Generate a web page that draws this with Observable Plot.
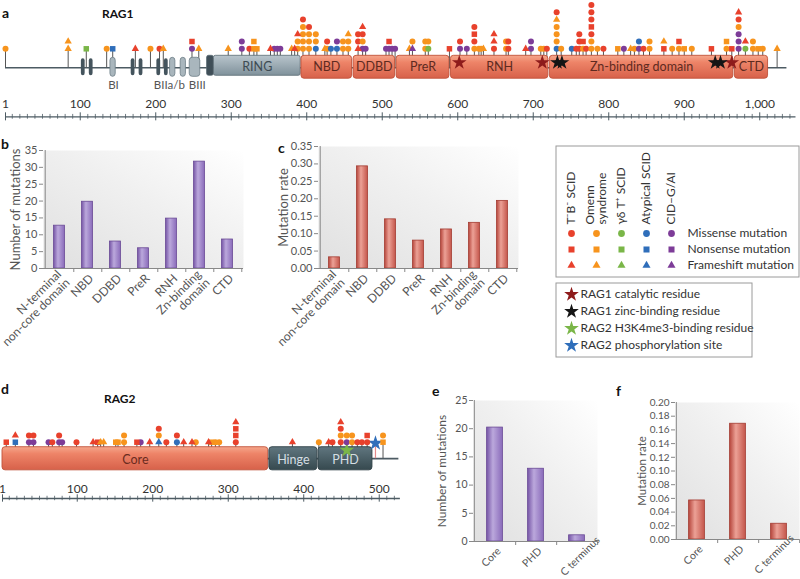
<!DOCTYPE html>
<html><head><meta charset="utf-8">
<script src="https://cdn.jsdelivr.net/npm/d3@7"></script>
<script src="https://cdn.jsdelivr.net/npm/@observablehq/plot@0.6"></script>
<style>
body{margin:0;background:#fff;font-family:Lato,"Open Sans",sans-serif;}
#root{position:relative;width:800px;height:579px;overflow:hidden;background:#fff;}
#root svg.plot-part{position:absolute;}
.lbl{position:absolute;font-weight:bold;line-height:1;color:#111;white-space:nowrap;}
</style></head><body>
<div id="root">
<svg width="0" height="0" style="position:absolute">
<defs>
<linearGradient id="salmon" x1="0" y1="0" x2="0" y2="1"><stop offset="0" stop-color="#f5a78c"/><stop offset="0.3" stop-color="#ee8468"/><stop offset="1" stop-color="#d7614a"/></linearGradient>
<linearGradient id="ring" x1="0" y1="0" x2="0" y2="1"><stop offset="0" stop-color="#b9c5cc"/><stop offset="1" stop-color="#7f919b"/></linearGradient>
<linearGradient id="slate" x1="0" y1="0" x2="0" y2="1"><stop offset="0" stop-color="#60767f"/><stop offset="1" stop-color="#36494f"/></linearGradient>
<linearGradient id="bggrad" x1="0" y1="1" x2="1" y2="0"><stop offset="0" stop-color="#e0e0e0"/><stop offset="0.55" stop-color="#f0f0f0"/><stop offset="1" stop-color="#ffffff"/></linearGradient>
<linearGradient id="purpleBar" x1="0" y1="0" x2="1" y2="0"><stop offset="0" stop-color="#7655a6"/><stop offset="0.4" stop-color="#bba8dc"/><stop offset="1" stop-color="#8a6bba"/></linearGradient>
<linearGradient id="redBar" x1="0" y1="0" x2="1" y2="0"><stop offset="0" stop-color="#b6463c"/><stop offset="0.4" stop-color="#eca196"/><stop offset="1" stop-color="#c4564b"/></linearGradient>
</defs></svg>
</div>
<script>
// ---------------- DATA ----------------
const diseases = ["T⁻B⁻ SCID", "Omenn\nsyndrome", "γδ T⁺ SCID", "Atypical SCID", "CID–G/AI"];
const diseaseColors = ["#e8412c", "#f7941d", "#7ab648", "#2f6eba", "#7d3c98"];
const mutTypes = ["Missense mutation", "Nonsense mutation", "Frameshift mutation"];
const mutSymbols = ["circle", "square", "triangle"];
const residueLabels = ["RAG1 catalytic residue", "RAG1 zinc-binding residue", "RAG2 H3K4me3-binding residue", "RAG2 phosphorylation site"];
const residueColors = ["#8e1b1b", "#151515", "#7ab648", "#2f6eba"];

// RAG1 mutations: position (aa) and stacked codes (bottom->top): colour r/o/g/b/p + shape c/s/t
const rag1Pos = [1,84,108,135,143,173,193,205,210,248,257,296,314,324,330,334,352,357,361,365,380,384,388,395,403,412,424,427,432,440,448,455,468,474,478,505,509,513,517,536,540,557,561,589,603,612,622,628,631,634,648,664,667,690,697,710,714,718,731,737,751,757,761,766,770,777,785,793,812,820,829,834,840,846,854,873,884,893,900,910,936,956,963,972,981,991,998,1004,1023];
const rag1Muts = ["oc","ot ot","gs","oc","bs","rt","oc","rc","ot","pc rs",
"ot","ot","pc pc","rc","os os","os","rt","pc","pc","pc",
"ot","rt","oc oc rt","oc oc oc oc rc","oc oc oc rc","bc oc oc","ot","oc rc","bc","bc pc",
"oc oc","oc oc ot","rt rc rc","pc oc rc rt","pc","pc","pc rs","pc","pc","ot",
"pt oc","oc oc","gc oc","rs","pc rc","pc","oc rc rs rc","oc","oc","ot",
"rc rt rt","oc oc","rc rc","rt","pc pc","oc","oc","rc","bc oc oc oc ot rc","oc",
"bc","rc","rc rc rc","oc rs","rc","oc oc rc rs rc rc rc","oc","rc","os","pc",
"ot","oc","pc bc","rc","oc oc","rs ot","oc","oc rs","os","oc",
"rs","oc os","rs","pc pc pc oc rc rt","gc rt","oc oc","os","oc","ot"];
const rag1DomNames = ["NBD","DDBD","PreR","RNH","Zn-binding domain","CTD"];
const rag1DomStart = [393,462,519,591,722,967];
const rag1DomEnd   = [460,517,589,720,965,1011];
const rag1RingStart = [268,277];
const rag1RingEnd   = [277,392];
const rag1DarkMotifStart = [101.5,112,167.5,178,201.5,211.5];
const rag1DarkMotifEnd   = [106.5,117,172.5,183,206.5,216.5];
const rag1LightMotifStart = [140,219,233,245];
const rag1LightMotifEnd   = [147,226,240,259];
const rag1MotifNames = ["BI","BIIa/b","BIII"];
const rag1MotifPos = [144,218,255];
const rag1Catalytic = [602,712,963];
const rag1ZincBinding = [732,738,941,948];
const rag1TickVals = [1,100,200,300,400,500,600,700,800,900,1000];
const rag1TickLabels = ["1","100","200","300","400","500","600","700","800","900","1,000"];

// RAG2
const rag2Pos = [6,18,36,42,62,67,76,80,99,121,127,131,135,151,154,162,179,184,196,208,218,232,241,252,257,274,278,283,288,310,385,420,433,438,449,457,464,471,477,484,505];
const rag2Muts = ["rs","bs rt","pc rc","pc rc","pc","rc","pc rc","pc","rc","rt",
"rs","ot","ot","os","os","oc oc","rs","pc","rt","bt oc rc",
"rc","bc rc","rt","rt","oc","rt","os","oc","oc","rc rs rs rt",
"rt","oc","rt","rc","rc oc rc rt","pc oc","oc oc","rc","rc","rc rs",
"os oc"];
const rag2DomNames = ["Core","Hinge","PHD"];
const rag2DomStart = [1,354.5,419.5];
const rag2DomEnd   = [353,418,491];
const rag2H3K4me3 = [457];
const rag2Phospho = [495];
const rag2TickVals = [1,100,200,300,400,500];
const rag2TickLabels = ["1","100","200","300","400","500"];

// Bar charts
const rag1Domains = ["N-terminal\nnon-core domain","NBD","DDBD","PreR","RNH","Zn-binding\ndomain","CTD"];
const rag1MutCounts = [12.7,19.8,8,6,14.8,31.7,8.6];
const rag1MutRates = [0.032,0.293,0.141,0.080,0.112,0.131,0.194];
const rag2Regions = ["Core","PHD","C terminus"];
const rag2MutCounts = [20.2,12.9,1.1];
const rag2MutRates = [0.057,0.169,0.023];

// ---------------- HELPERS ----------------
const FONT = "Lato, 'Open Sans', sans-serif";
const COLOR_OF = {r: diseaseColors[0], o: diseaseColors[1], g: diseaseColors[2], b: diseaseColors[3], p: diseaseColors[4]};
const SHAPE_OF = {c: "circle", s: "square", t: "triangle"};
const AX = "#4d5b63";
const root = document.getElementById("root");

function place(svg, left, top) {
  svg.classList.add("plot-part");
  svg.style.left = left + "px";
  svg.style.top = top + "px";
  svg.style.maxWidth = "none";
  root.appendChild(svg);
}
function label(text, left, top, size) {
  const d = document.createElement("div");
  d.className = "lbl";
  d.textContent = text;
  d.style.left = left + "px"; d.style.top = top + "px"; d.style.fontSize = size + "px";
  root.appendChild(d);
}
function stackMuts(pos, codes) {
  const out = [];
  pos.forEach((p, i) => codes[i].split(" ").forEach((c, k) =>
    out.push({pos: p, row: k, color: COLOR_OF[c[0]], shape: SHAPE_OF[c[1]]})));
  return out;
}
function symbolMarks(flat) {
  return [
    Plot.dot(flat.filter(d => d.shape === "circle"), {x: "pos", y: "row", fill: "color", symbol: "circle", r: 3}),
    Plot.dot(flat.filter(d => d.shape === "square"), {x: "pos", y: "row", fill: "color", symbol: "square", r: 3.1}),
    Plot.dot(flat.filter(d => d.shape === "triangle"), {x: "pos", y: "row", fill: "color", symbol: "triangle", r: 2.7})
  ];
}
function rulerMarks(L, lo, hi, tickVals, tickLabels) {
  const minor = d3.range(10, hi, 10).filter(v => v % 100 !== 0);
  return [
    Plot.ruleY([L.axis], {x1: lo, x2: hi, stroke: AX, strokeWidth: 1.3}),
    Plot.ruleX(minor, {x: d => d, y1: L.axis - L.minT, y2: L.axis + L.minT, stroke: AX, strokeWidth: 0.8}),
    Plot.ruleX(tickVals, {x: d => d, y1: L.axis - L.majT, y2: L.axis + L.majT, stroke: AX, strokeWidth: 1}),
    Plot.text(tickVals, {x: d => d, y: L.tickLbl, text: (d, i) => tickLabels[i], fontSize: 12, fill: "#333"})
  ];
}

// ---------------- PANEL a : RAG1 ----------------
{
  const L = {backbone: -2.6, boxTop: -0.96, boxBot: -4.1, ringTop: -0.96, ringBot: -3.7,
             darkTop: -1.37, darkBot: -3.7, lightTop: -1.23, lightBot: -3.84, motifLbl: -4.95,
             domLbl: -2.5, star: -1.88, tickLbl: -7.55, axis: -9.32, majT: 0.55, minT: 0.33};
  const flat = stackMuts(rag1Pos, rag1Muts);
  const doms = rag1DomNames.map((n, i) => ({name: n, start: rag1DomStart[i], end: rag1DomEnd[i]}));
  const ring = rag1RingStart.map((s, i) => ({start: s, end: rag1RingEnd[i], cap: i === 0}));
  const dark = rag1DarkMotifStart.map((s, i) => ({start: s, end: rag1DarkMotifEnd[i]}));
  const light = rag1LightMotifStart.map((s, i) => ({start: s, end: rag1LightMotifEnd[i]}));
  const svg = Plot.plot({
    width: 800, height: 125, margin: 0,
    style: {fontFamily: FONT, background: "transparent", overflow: "visible"},
    x: {domain: [1, 1043], range: [5, 5 + 1042 * 0.755], axis: null},
    y: {domain: [0, 1], range: [48.3, 41.0], axis: null},
    marks: [
      ...rulerMarks(L, 1, 1048, rag1TickVals, rag1TickLabels),
      Plot.ruleY([L.backbone], {x1: 1, x2: 1036, stroke: AX, strokeWidth: 1.6}),
      Plot.ruleX(rag1Pos, {x: d => d, y1: L.backbone, y2: 0, stroke: "#555", strokeWidth: 1}),
      Plot.rect(dark, {x1: "start", x2: "end", y1: L.darkBot, y2: L.darkTop, fill: "#44545d", rx: 2.2}),
      Plot.rect(light, {x1: "start", x2: "end", y1: L.lightBot, y2: L.lightTop, fill: "#a9b6bd", stroke: "#6d7d86", strokeWidth: 0.8, rx: 3}),
      Plot.rect(ring, {x1: "start", x2: "end", y1: L.ringBot, y2: L.ringTop, fill: d => d.cap ? "#3f4e57" : "url(#ring)", stroke: "#5b6b74", strokeWidth: 0.8, rx: 2}),
      Plot.text(["RING"], {x: (rag1RingStart[1] + rag1RingEnd[1]) / 2, y: L.domLbl, text: d => d, fontSize: 12.5, fill: "#3d4b53"}),
      Plot.text(rag1MotifNames, {x: (d, i) => rag1MotifPos[i], y: L.motifLbl, text: d => d, fontSize: 11.5, fill: "#555"}),
      Plot.rect(doms, {x1: "start", x2: "end", y1: L.boxBot, y2: L.boxTop, fill: "url(#salmon)", stroke: "#c1523a", strokeWidth: 0.9, rx: 3}),
      Plot.text(doms, {x: d => (d.start + d.end) / 2, y: L.domLbl, text: "name", fontSize: 12.5, fill: "#5e2a1f"}),
      Plot.dot(rag1Catalytic, {x: d => d, y: L.star, symbol: "star", r: 4.6, fill: residueColors[0]}),
      Plot.dot(rag1ZincBinding, {x: d => d, y: L.star, symbol: "star", r: 4.6, fill: residueColors[1]}),
      ...symbolMarks(flat)
    ]
  });
  place(svg, 0, 0);
}

// ---------------- PANEL d : RAG2 ----------------
{
  const L = {backbone: -2.45, boxTop: -0.75, boxBot: -4.2, domLbl: -2.6, green: -1.2, blue: -0.15,
             tickLbl: -7.0, axis: -8.4, majT: 0.55, minT: 0.33};
  const flat = stackMuts(rag2Pos, rag2Muts);
  const doms = rag2DomNames.map((n, i) => ({name: n, start: rag2DomStart[i], end: rag2DomEnd[i], core: i === 0}));
  const svg = Plot.plot({
    width: 420, height: 130, margin: 0,
    style: {fontFamily: FONT, background: "transparent", overflow: "visible"},
    x: {domain: [1, 527], range: [2, 2 + 526 * 0.755], axis: null},
    y: {domain: [0, 1], range: [61.7, 55.0], axis: null},
    marks: [
      ...rulerMarks(L, 1, 528, rag2TickVals, rag2TickLabels),
      Plot.ruleY([L.backbone], {x1: 300, x2: 526, stroke: AX, strokeWidth: 1.6}),
      Plot.ruleX(rag2Pos, {x: d => d, y1: L.backbone, y2: 0, stroke: "#555"}),
      Plot.ruleX(rag2Phospho, {x: d => d, y1: L.backbone, y2: L.blue, stroke: "#e58a8a", strokeWidth: 1.2}),
      Plot.rect(doms, {x1: "start", x2: "end", y1: L.boxBot, y2: L.boxTop, fill: d => d.core ? "url(#salmon)" : "url(#slate)", stroke: d => d.core ? "#c1523a" : "#2f3f46", strokeWidth: 0.9, rx: 3}),
      Plot.text(doms, {x: d => (d.start + d.end) / 2, y: L.domLbl, text: "name", fontSize: 12.5, fill: d => d.core ? "#6a2b20" : "#d5dee3"}),
      Plot.dot(rag2H3K4me3, {x: d => d, y: L.green, symbol: "star", r: 4.6, fill: residueColors[2]}),
      Plot.dot(rag2Phospho, {x: d => d, y: L.blue, symbol: "star", r: 4.8, fill: residueColors[3]}),
      ...symbolMarks(flat)
    ]
  });
  place(svg, 0, 380);
}

// ---------------- BAR CHARTS ----------------
function barChart(o) {
  const bw = (o.width - o.mL - o.mR) / o.cats.length;
  const tickLen = (o.yDomain[1] - o.yDomain[0]) / (o.height - o.mT - o.mB) * 4;
  const shifted = o.shift || [];
  const normalCats = o.cats.filter(c => !shifted.includes(c));
  const shiftCats = o.cats.filter(c => shifted.includes(c));
  return Plot.plot({
    width: o.width, height: o.height, marginLeft: o.mL, marginRight: o.mR, marginTop: o.mT, marginBottom: o.mB,
    style: {fontFamily: FONT, background: "transparent", color: "#4a4a4a", fontSize: o.fs + "px", overflow: "visible"},
    x: {type: "band", domain: o.cats, padding: 0, axis: null},
    y: {domain: o.yDomain, axis: null},
    marks: [
      Plot.frame({fill: "url(#bggrad)", stroke: "none"}),
      Plot.barY(o.cats, {x: d => d, y: (d, i) => o.vals[i], fill: o.fill, stroke: o.stroke, strokeWidth: 0.8, insetLeft: o.inset, insetRight: o.inset}),
      Plot.ruleY([o.yDomain[0]], {stroke: "#888"}),
      Plot.ruleX([o.cats[0]], {dx: -bw / 2, y1: o.yDomain[0], y2: o.yDomain[1], stroke: "#888"}),
      Plot.ruleX(o.cats, {dx: bw / 2, y1: o.yDomain[0], y2: o.yDomain[0] - tickLen, stroke: "#888"}),
      Plot.axisY({ticks: o.yTicks, tickFormat: o.fmt, tickSize: 4, tickPadding: 2, label: null, stroke: "#888", fill: "#555"}),
      Plot.text(normalCats, {x: d => d, y: o.yDomain[0], text: d => d, rotate: -45, textAnchor: "end", lineAnchor: "middle", dx: 4, dy: 8, fontSize: o.cfs, fill: "#555"}),
      Plot.text(shiftCats, {x: d => d, y: o.yDomain[0], text: d => d, rotate: -45, textAnchor: "end", lineAnchor: "middle", dx: o.shiftDx || 0, dy: -3, fontSize: o.cfs, fill: "#555"}),
      Plot.text([o.ylabel], {frameAnchor: "left", dx: -o.lblOff, rotate: -90, textAnchor: "middle", fontSize: o.lfs, fill: "#555", text: d => d})
    ]
  });
}

place(barChart({cats: rag1Domains, vals: rag1MutCounts, yDomain: [0, 35], yTicks: d3.range(0, 36, 5), fmt: d3.format("d"),
  ylabel: "Number of mutations", fill: "url(#purpleBar)", stroke: "#6a4a96", width: 250, height: 202, mL: 43, mR: 7, mT: 12, mB: 72,
  inset: 8.5, fs: 11, cfs: 12, lfs: 13, lblOff: 28}), 0, 138);

place(barChart({cats: rag1Domains, vals: rag1MutRates, yDomain: [0, 0.35], yTicks: d3.range(0, 0.351, 0.05), fmt: d3.format(".2f"),
  ylabel: "Mutation rate", fill: "url(#redBar)", stroke: "#a33c32", width: 255, height: 206, mL: 48, mR: 7, mT: 12, mB: 72,
  inset: 8.5, fs: 11, cfs: 12, lfs: 13, lblOff: 35}), 270, 134);

place(barChart({cats: rag2Regions, vals: rag2MutCounts, yDomain: [0, 25], yTicks: d3.range(0, 26, 5), fmt: d3.format("d"),
  ylabel: "Number of mutations", fill: "url(#purpleBar)", stroke: "#6a4a96", width: 185, height: 193, mL: 53, mR: 8, mT: 12, mB: 40,
  inset: 12.6, fs: 10.5, cfs: 10.5, lfs: 12, lblOff: 31, shift: ["C terminus"], shiftDx: 21}), 420, 388);

place(barChart({cats: rag2Regions, vals: rag2MutRates, yDomain: [0, 0.20], yTicks: d3.range(0, 0.201, 0.02), fmt: d3.format(".2f"),
  ylabel: "Mutation rate", fill: "url(#redBar)", stroke: "#a33c32", width: 180, height: 191, mL: 55, mR: 1, mT: 14, mB: 40,
  inset: 12.6, fs: 10, cfs: 10.5, lfs: 11.5, lblOff: 33, shift: ["C terminus"], shiftDx: 13}), 620, 388);

// ---------------- LEGENDS ----------------
{
  const pts = [];
  diseases.forEach((d, i) => mutTypes.forEach((t, j) => pts.push({d, t, color: diseaseColors[i], shape: mutSymbols[j]})));
  const svg = Plot.plot({
    width: 244, height: 132, margin: 0.5,
    style: {fontFamily: FONT, background: "transparent", overflow: "visible"},
    x: {type: "point", domain: diseases, range: [15, 116], padding: 0, axis: null},
    y: {type: "point", domain: mutTypes, range: [87, 120], padding: 0, axis: null},
    marks: [
      Plot.frame({stroke: "#9a9a9a"}),
      Plot.dot(pts.filter(p => p.shape === "circle"), {x: "d", y: "t", fill: "color", symbol: "circle", r: 3.4}),
      Plot.dot(pts.filter(p => p.shape === "square"), {x: "d", y: "t", fill: "color", symbol: "square", r: 3.4}),
      Plot.dot(pts.filter(p => p.shape === "triangle"), {x: "d", y: "t", fill: "color", symbol: "triangle", r: 3}),
      Plot.text(diseases, {x: d => d, y: () => mutTypes[0], dy: -9, rotate: -90, textAnchor: "start", text: d => d, fontSize: 12, fill: "#333"}),
      Plot.text(mutTypes, {x: () => diseases[4], y: d => d, dx: 16, textAnchor: "start", text: d => d, fontSize: 12, fill: "#333"})
    ]
  });
  place(svg, 555, 145);

  const svg2 = Plot.plot({
    width: 197, height: 75, margin: 0.5,
    style: {fontFamily: FONT, background: "transparent", overflow: "visible"},
    x: {domain: [0, 1], range: [16, 25], axis: null},
    y: {type: "point", domain: residueLabels, range: [12, 63], padding: 0, axis: null},
    marks: [
      Plot.frame({stroke: "#9a9a9a"}),
      Plot.dot(residueLabels, {x: () => 0, y: d => d, symbol: "star", r: 4.6, fill: (d, i) => residueColors[i]}),
      Plot.text(residueLabels, {x: () => 1, y: d => d, textAnchor: "start", text: d => d, fontSize: 12, fill: "#333"})
    ]
  });
  place(svg2, 555, 282);
}

// ---------------- PANEL LETTERS / TITLES ----------------
label("a", 2, 6, 14);
label("RAG1", 102, 8, 12);
label("b", 1, 137, 14);
label("c", 278, 141, 14);
label("d", 1, 382, 14);
label("RAG2", 104, 393, 12);
label("e", 432, 384, 14);
label("f", 616, 384, 14);
</script>
</body></html>
